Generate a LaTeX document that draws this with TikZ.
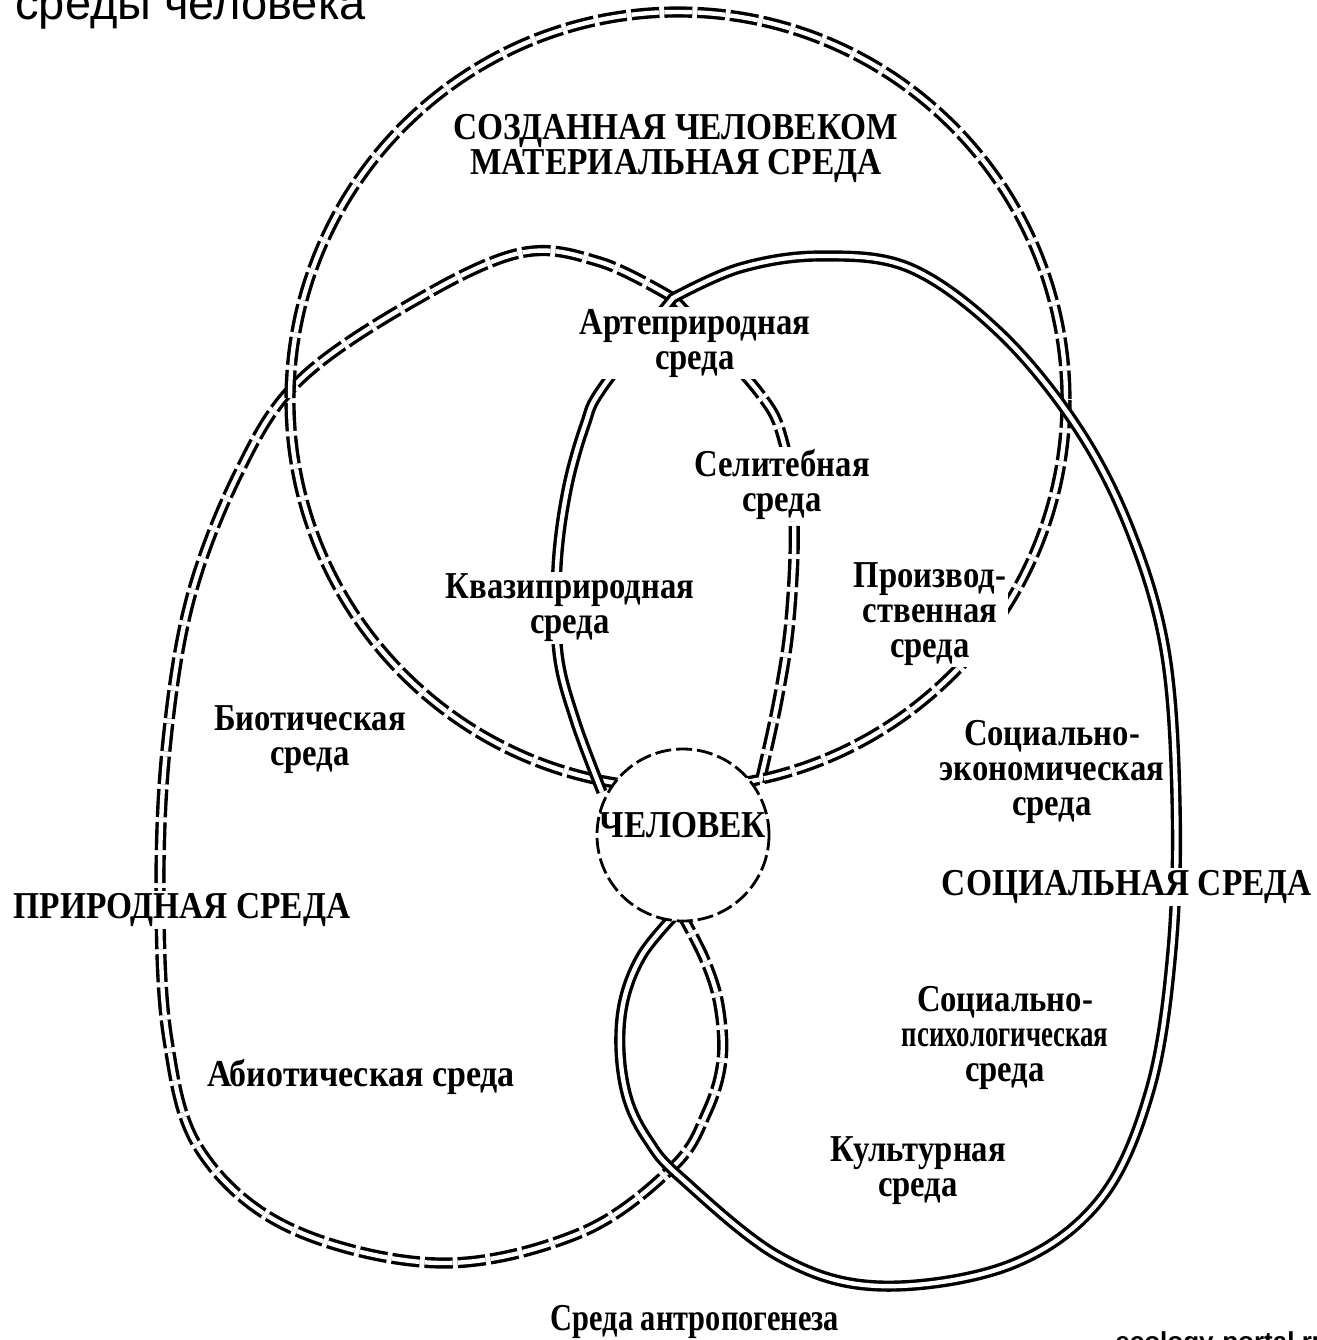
\documentclass[tikz,border=0pt]{standalone}
\usepackage{fontspec}
\setmainfont{Liberation Serif}
\newfontfamily\headfont{Liberation Sans}
\newfontfamily\labfont[FakeStretch=0.86]{Liberation Serif}
\newfontfamily\capfont[FakeStretch=0.88]{Liberation Serif}

\begin{document}
\begin{tikzpicture}[x=0.5pt,y=-0.5pt,
    envlabel/.style={font=\labfont\bfseries\fontsize{19}{17.5}\selectfont, align=center, fill=white, inner sep=1pt},
    biglabel/.style={font=\capfont\bfseries\fontsize{19}{17.5}\selectfont, align=center, fill=white, inner sep=1pt},
    soclink/.style={double, double distance=2.2pt, line width=1.7pt, line join=round},
    natlink/.style={soclink, dash pattern=on 14pt off 2.5pt},
    mancircle/.style={circle, draw, line width=1.4pt, dash pattern=on 8pt off 2.5pt, fill=white, minimum size=86pt, inner sep=0pt}]
    \useasboundingbox (0,0) rectangle (1317,1340);
    \node[font=\headfont\fontsize{23.5}{28}\selectfont, anchor=base west, inner sep=0pt] (title) at (15,19) {среды человека};
    % природная среда
    \draw[natlink] plot[smooth, tension=0.6] coordinates {(760,782) (778,700) (790,620) (794,520) (783,440) (757,390) (673,298)}
        -- plot[smooth, tension=0.6] coordinates {(673,298) (600,262) (520,253) (413,302) (300,380) (240,470) (190,600) (166,750) (160,900) (168,1040) (200,1150) (290,1228) (440,1263) (580,1233) (673,1167) (707,1112) (722,1060) (719,1005) (705,960) (683,917)};
    % созданная человеком среда
    \draw[natlink] (678,400) circle (388);
    % социальная среда
    \draw[soclink] plot[smooth, tension=0.6] coordinates {(602,792) (575,720) (558,653) (557,567) (567,490) (585,425) (603,387) (673,298)}
        -- plot[smooth, tension=0.6] coordinates {(673,298) (740,268) (820,256) (910,268) (1000,333) (1077,427) (1130,530) (1165,650) (1176,800) (1172,950) (1150,1090) (1100,1200) (1010,1265) (880,1286) (780,1257) (680,1177) (648,1140) (628,1100) (620,1050) (624,1000) (642,955) (673,917)};
    \node[mancircle] (man) at (683,835) {};
    \node[biglabel, fill=none] (manlabel) at (683,825) {ЧЕЛОВЕК};
    \node[biglabel] (created) at (676,148) {СОЗДАННАЯ ЧЕЛОВЕКОМ\\МАТЕРИАЛЬНАЯ СРЕДА};
    \node[biglabel] (natural) at (182,910) {ПРИРОДНАЯ СРЕДА};
    \node[biglabel] (social) at (1127,887) {СОЦИАЛЬНАЯ СРЕДА};
    \node[envlabel] (arte) at (695,343) {Артеприродная\\среда};
    \node[envlabel] (selit) at (782,484) {Селитебная\\среда};
    \node[envlabel] (kvazi) at (570,608) {Квазиприродная\\среда};
    \node[envlabel] (prod) at (930,614) {Производ-\\ственная\\среда};
    \node[envlabel] (biot) at (310,740) {Биотическая\\среда};
    \node[envlabel] (socecon) at (1052,772) {Социально-\\экономическая\\среда};
    \node[envlabel] (socpsy) at (1005,1038) {Социально-\\\scalebox{0.82}[1]{психологическая}\\среда};
    \node[envlabel] (abiot) at (361,1077) {\scalebox{1.04}[1]{Абиотическая среда}};
    \node[envlabel] (cult) at (918,1171) {Культурная\\среда};
    \node[envlabel] (anthro) at (695,1322) {\scalebox{0.93}[1]{Среда антропогенеза}};
    \node[font=\headfont\bfseries\fontsize{13}{15}\selectfont, anchor=base west, inner sep=0pt] (wmark) at (1115,1350) {ecology-portal.ru};
\end{tikzpicture}
\end{document}
